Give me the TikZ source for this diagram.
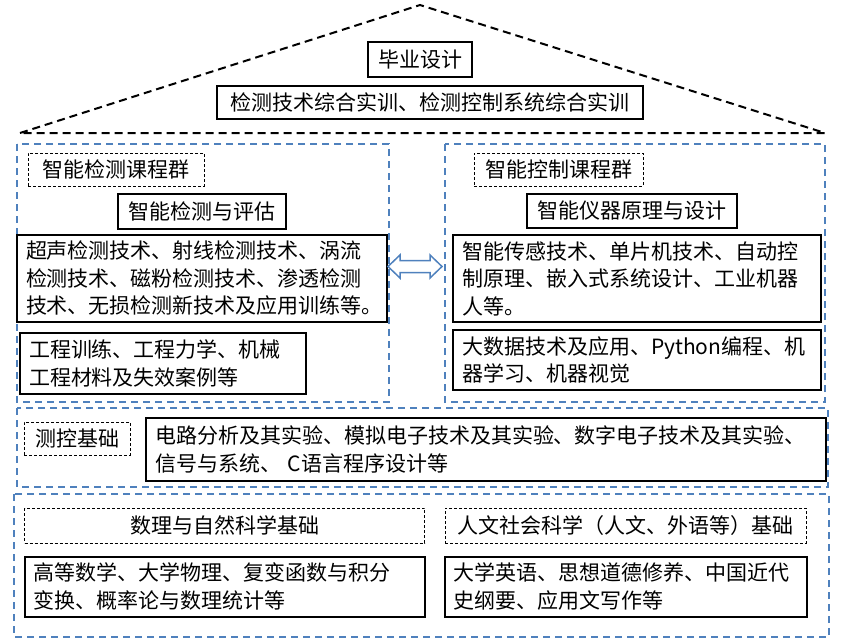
\documentclass[tikz,border=0pt]{standalone}
\usepackage{fontspec}
\setmainfont{Noto Sans CJK SC}
\usepackage{tikz}

\definecolor{grpblue}{RGB}{79,129,189}

\begin{document}
\begin{tikzpicture}[x=1pt, y=-1pt,
  every node/.style={font=\fontsize{21}{27.5}\selectfont, inner sep=0pt},
  course/.style={draw, line width=2pt, align=center},
  coursetxt/.style={draw, line width=2pt, align=left, inner xsep=9pt},
  grouptag/.style={draw, densely dashed, line width=0.8pt, align=center},
  group/.style={draw=grpblue, line width=2pt, dash pattern=on 7pt off 5pt}]
\useasboundingbox (0,0) rectangle (841,643);

\coordinate (roofl) at (20,133);
\coordinate (roofm) at (420,5);
\coordinate (roofr) at (825,133);
\draw[line width=2pt, dash pattern=on 8pt off 5pt] (roofl) -- (roofm) -- (roofr) -- cycle;

\node[course, minimum width=104pt, minimum height=35pt] (grad) at (420,59.5) {毕业设计};
\node[course, minimum width=426pt, minimum height=33pt] (train) at (430,102.5) {检测技术综合实训、检测控制系统综合实训};

\draw[group] (17,144) rectangle (389,402);
\draw[group] (445,144) rectangle (825,402);

\node[grouptag, minimum width=176pt, minimum height=33pt] (ltag) at (116,169.5) {智能检测课程群};
\node[course, minimum width=168pt, minimum height=35pt] (lcore) at (202,211.5) {智能检测与评估};
\node[coursetxt, text width=352pt, minimum height=87pt] (lbox) at (202,278.5)
  {超声检测技术、射线检测技术、涡流\\检测技术、磁粉检测技术、渗透检测\\技术、无损检测新技术及应用训练等。};
\node[coursetxt, text width=268pt, minimum height=61pt] (mech) at (163,363.5)
  {工程训练、工程力学、机械\\工程材料及失效案例等};

\node[grouptag, minimum width=169pt, minimum height=33pt] (rtag) at (558.5,169.5) {智能控制课程群};
\node[course, minimum width=210pt, minimum height=34pt] (rcore) at (632,211) {智能仪器原理与设计};
\node[coursetxt, text width=350pt, minimum height=87pt] (rbox) at (637,278.5)
  {智能传感技术、单片机技术、自动控\\制原理、嵌入式系统设计、工业机器\\人等。};
\node[coursetxt, text width=350pt, minimum height=60pt] (data) at (637,360)
  {大数据技术及应用、Python编程、机\\器学习、机器视觉};

\coordinate (link) at (415,266.5);
\draw[grpblue, line width=1.5pt, fill=white, line join=miter] (link)
  ++(-27,0) -- ++(12,-11.5) -- ++(0,5.5) -- ++(30,0) -- ++(0,-5.5) -- ++(12,11.5)
  -- ++(-12,11.5) -- ++(0,-5.5) -- ++(-30,0) -- ++(0,5.5) -- cycle;

\draw[group] (17,408) rectangle (828,487);
\node[grouptag, minimum width=106pt, minimum height=33pt] (mtag) at (77,438.5) {测控基础};
\node[coursetxt, text width=662pt, minimum height=63pt] (mbox) at (486,449.5)
  {电路分析及其实验、模拟电子技术及其实验、数字电子技术及其实验、\\信号与系统、\ C语言程序设计等};

\draw[group] (14,494) rectangle (829,637);
\node[grouptag, minimum width=400pt, minimum height=35pt] (stag) at (224.5,525.5) {数理与自然科学基础};
\node[grouptag, minimum width=361pt, minimum height=35pt] (htag) at (625.5,525.5) {人文社会科学（人文、外语等）基础};
\node[coursetxt, text width=382pt, minimum height=60pt] (sbox) at (224.5,586.5)
  {高等数学、大学物理、复变函数与积分\\变换、概率论与数理统计等};
\node[coursetxt, text width=344pt, minimum height=60pt] (hbox) at (625.5,586.5)
  {大学英语、思想道德修养、中国近代\\史纲要、应用文写作等};
\end{tikzpicture}
\end{document}
